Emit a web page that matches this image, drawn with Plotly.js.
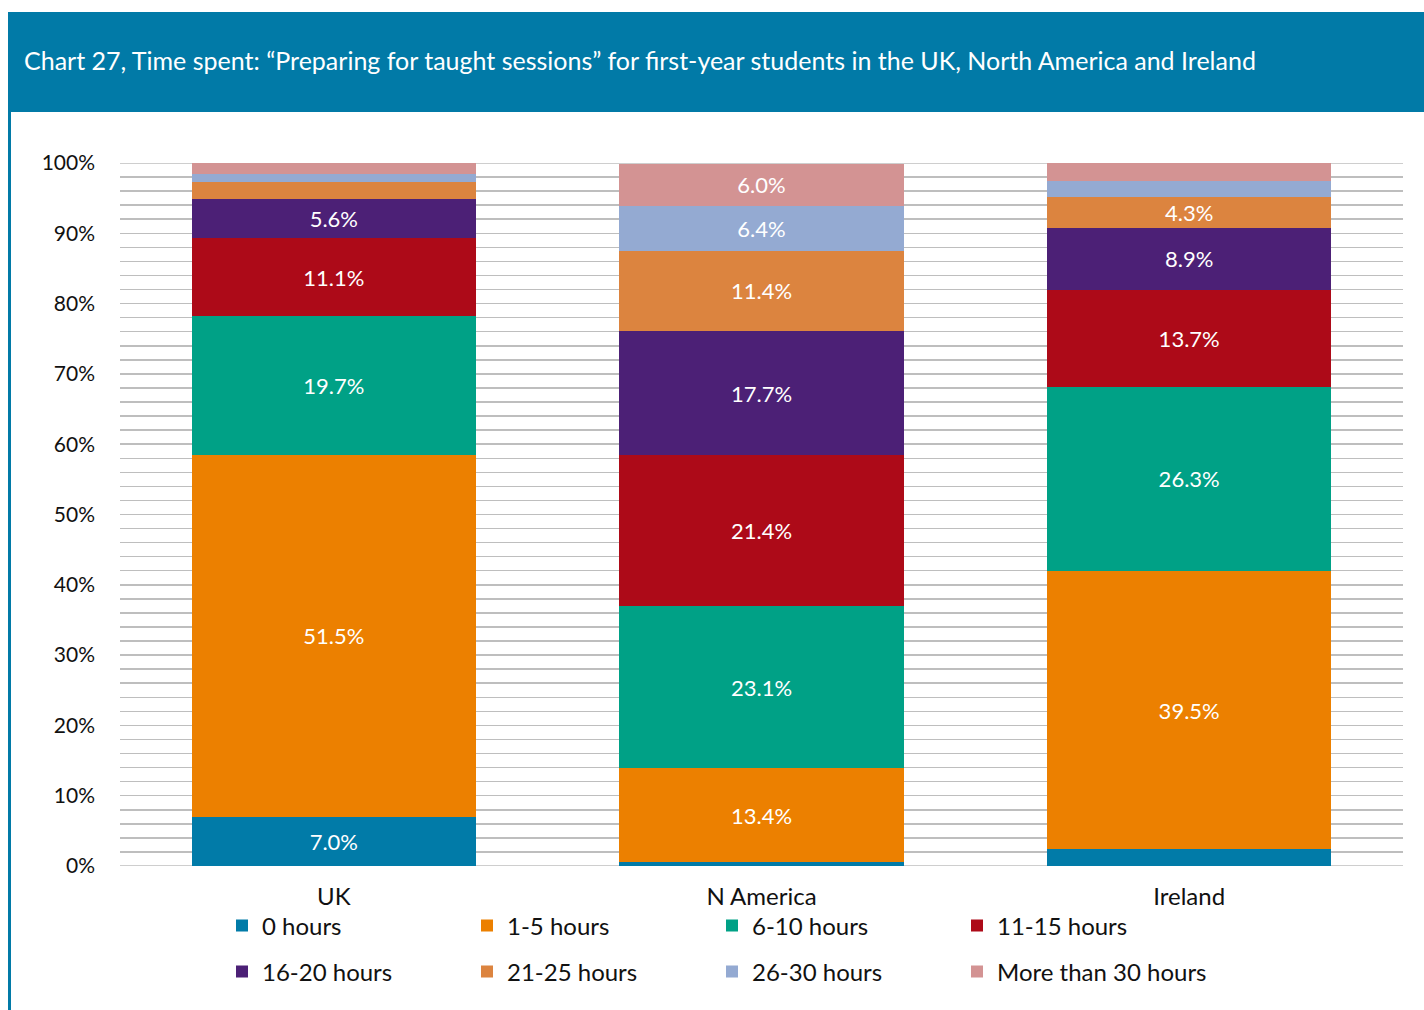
<!DOCTYPE html>
<html>
<head>
<meta charset="utf-8">
<script src="https://cdn.plot.ly/plotly-3.0.1.min.js"></script>
<style>html,body{margin:0;padding:0;background:#fff;}#chart{width:1424px;height:1010px;}</style>
</head>
<body>
<div id="chart"></div>
<script>
const categories = ['UK', 'N America', 'Ireland'];
const seriesNames = ['0 hours', '1-5 hours', '6-10 hours', '11-15 hours', '16-20 hours', '21-25 hours', '26-30 hours', 'More than 30 hours'];
const hours0 = [7.0, 0.5, 2.4];
const hours1to5 = [51.5, 13.4, 39.5];
const hours6to10 = [19.7, 23.1, 26.3];
const hours11to15 = [11.1, 21.4, 13.7];
const hours16to20 = [5.6, 17.7, 8.9];
const hours21to25 = [2.4, 11.4, 4.3];
const hours26to30 = [1.1, 6.4, 2.4];
const hoursOver30 = [1.6, 6.0, 2.5];
const yTickVals = [0, 10, 20, 30, 40, 50, 60, 70, 80, 90, 100];
const yTickText = ['0%', '10%', '20%', '30%', '40%', '50%', '60%', '70%', '80%', '90%', '100%'];

const seriesValues = [hours0, hours1to5, hours6to10, hours11to15, hours16to20, hours21to25, hours26to30, hoursOver30];
const colors = ['#017BA8', '#EC8000', '#00A186', '#AD0A18', '#4C2076', '#DC843F', '#94AAD2', '#D39393'];
const FONT = 'Lato, "Open Sans", sans-serif';

const plotL = 120, plotR = 1403, plotT = 163, plotB = 866, W = 1424, H = 1010;
const px2x = p => (p - plotL) / (plotR - plotL);
const px2y = p => (plotB - p) / (plotB - plotT);

const legendOf = i => (i < 4 ? 'legend' : (i < 7 ? 'legend2' : 'legend3'));

const traces = seriesValues.map((vals, i) => ({
  type: 'bar',
  name: seriesNames[i],
  x: categories,
  y: vals,
  text: vals.map(v => v >= 3 ? v.toFixed(1) + '%' : ''),
  textposition: 'inside',
  insidetextanchor: 'middle',
  textangle: 0,
  constraintext: 'none',
  textfont: {family: FONT, size: 22, color: '#ffffff'},
  marker: {color: colors[i], line: {width: 0}},
  legend: legendOf(i),
  hoverinfo: 'name+y'
}));

const legendCommon = {
  orientation: 'h',
  xref: 'paper', yref: 'paper',
  xanchor: 'left', yanchor: 'middle',
  entrywidth: 200, entrywidthmode: 'pixels',
  traceorder: 'normal',
  font: {family: FONT, size: 24, color: '#111111'},
  bgcolor: 'rgba(0,0,0,0)',
  itemsizing: 'constant'
};

const edgeLine = y => ({type: 'line', xref: 'paper', yref: 'y', layer: 'below',
  x0: 0, x1: 1, y0: y, y1: y, line: {color: '#BEBEBE', width: 1.5}});

const legX = 222;
const layout = {
  width: W, height: H,
  margin: {l: plotL, r: W - plotR, t: plotT, b: H - plotB, pad: 0},
  paper_bgcolor: '#ffffff',
  plot_bgcolor: '#ffffff',
  barmode: 'stack',
  bargap: 0.335,
  showlegend: true,
  title: {
    text: 'Chart 27, Time spent: \u201cPreparing for taught sessions\u201d for first-year students in the UK, North America and Ireland',
    font: {family: FONT, size: 25, color: '#ffffff'},
    xref: 'container', yref: 'container',
    x: 24 / W, xanchor: 'left',
    y: 1 - 61 / H, yanchor: 'middle'
  },
  xaxis: {
    type: 'category',
    showgrid: false, zeroline: false, showline: false,
    ticks: '',
    tickfont: {family: FONT, size: 24, color: '#111111'},
    ticklabelstandoff: 14,
    fixedrange: true
  },
  yaxis: {
    range: [0, 100],
    tickvals: yTickVals,
    ticktext: yTickText,
    showgrid: true, gridcolor: '#BEBEBE', gridwidth: 1.5,
    zeroline: false, showline: false, ticks: '',
    tickfont: {family: FONT, size: 21, color: '#111111'},
    ticklabelstandoff: 24,
    minor: {dtick: 2, tick0: 0, showgrid: true, gridcolor: '#BEBEBE', gridwidth: 1.5},
    fixedrange: true
  },
  legend: Object.assign({}, legendCommon, {x: px2x(legX), y: px2y(926)}),
  legend2: Object.assign({}, legendCommon, {x: px2x(legX), y: px2y(972)}),
  legend3: Object.assign({}, legendCommon, {x: px2x(legX + 3 * 245), y: px2y(972), entrywidth: 240}),
  uniformtext: {mode: 'show', minsize: 22},
  shapes: [
    edgeLine(0), edgeLine(100),
    {type: 'rect', xref: 'paper', yref: 'paper', layer: 'above',
     x0: px2x(8), x1: px2x(1424), y0: px2y(112), y1: px2y(12),
     fillcolor: '#017AA7', line: {width: 0}},
    {type: 'rect', xref: 'paper', yref: 'paper', layer: 'above',
     x0: px2x(8), x1: px2x(11), y0: px2y(1010), y1: px2y(112),
     fillcolor: '#017AA7', line: {width: 0}}
  ]
};

Plotly.newPlot('chart', traces, layout, {displayModeBar: false, staticPlot: true});
</script>
</body>
</html>
